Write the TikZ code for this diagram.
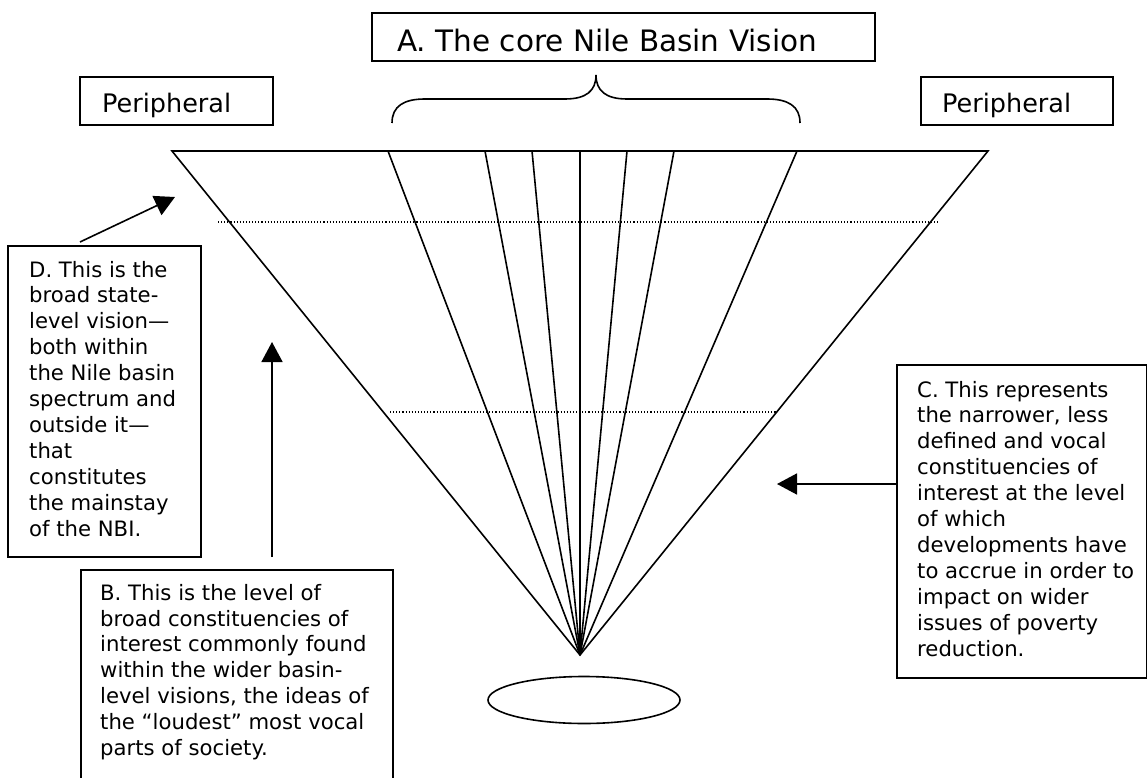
\documentclass[tikz,border=0pt]{standalone}
\usepackage{fontspec}
\setmainfont{DejaVu Sans}
\usetikzlibrary{arrows.meta,calc,shapes.geometric}
\begin{document}
\begin{tikzpicture}[x=1pt,y=-1pt,
  box/.style={draw, line width=1.6pt, inner sep=0pt, anchor=north west},
  txt/.style={inner sep=0pt, anchor=base west, align=left, font=\fontsize{21.2}{25.9}\selectfont},
  ln/.style={line width=1.6pt},
  dotln/.style={line width=1.1pt, dash pattern=on 1.1pt off 2pt},
  arr/.style={line width=1.6pt, -{Triangle[length=20pt,width=21pt]}},
]
\useasboundingbox (0,0) rectangle (1147,778);
\clip (0,0) rectangle (1147,778);
\fill[white] (0,0) rectangle (1147,778);

% boxes
\node[box, minimum width=503pt, minimum height=48pt] (A) at (371,12) {};
\node[box, minimum width=193pt, minimum height=48pt] (PL) at (79,76) {};
\node[box, minimum width=192pt, minimum height=48pt] (PR) at (920,76) {};
\node[box, minimum width=193pt, minimum height=311pt] (D) at (7,245) {};
\node[box, minimum width=312pt, minimum height=240pt] (B) at (80,569) {};
\node[box, minimum width=250pt, minimum height=313pt] (C) at (896,364) {};

% texts (base anchor = baseline of the last line)
\node[txt, font=\fontsize{29.5}{34}\selectfont] (At) at (397,52) {A. The core Nile Basin Vision};
\node[txt, font=\fontsize{25.5}{30}\selectfont] (PLt) at (102,113) {Peripheral};
\node[txt, font=\fontsize{25.5}{30}\selectfont] (PRt) at (942,113) {Peripheral};
\node[txt] (Dt) at (29,536) {D. This is the\\broad state-\\level vision—\\both within\\the Nile basin\\spectrum and\\outside it—\\that\\constitutes\\the mainstay\\of the NBI.};
\node[txt] (Bt) at (100,755.5) {B. This is the level of\\broad constituencies of\\interest commonly found\\within the wider basin-\\level visions, the ideas of\\the “loudest” most vocal\\parts of society.};
\node[txt] (Ct) at (917,656) {C. This represents\\the narrower, less\\defined and vocal\\constituencies of\\interest at the level\\of which\\developments have\\to accrue in order to\\impact on wider\\issues of poverty\\reduction.};

% triangle and fan
\coordinate (apex) at (580,655);
\coordinate (tl) at (172,151);
\coordinate (tr) at (988,151);
\foreach \x [count=\i] in {388,485,532,580,627,674,797} {\coordinate (f\i) at (\x,151);}
\draw[ln, line join=miter] (apex) -- (tl) -- (tr) -- cycle;
\foreach \i in {1,...,7} {\draw[ln] (apex) -- (f\i);}

% dotted levels
\coordinate (d1a) at (218,222); \coordinate (d1b) at (940,222);
\coordinate (d2a) at (390,412); \coordinate (d2b) at (776,412);
\draw[dotln] (d1a) -- (d1b);
\draw[dotln] (d2a) -- (d2b);

% brace
\draw[ln] (392,123) .. controls (392,106) and (404,99) .. (425,99) -- (565,99)
  .. controls (586,99) and (596,91) .. (596,75)
  .. controls (596,91) and (606,99) .. (627,99) -- (767,99)
  .. controls (788,99) and (800,106) .. (800,123);

% ellipse
\node[draw, ellipse, line width=1.6pt, minimum width=192pt, minimum height=47pt, inner sep=0pt] (E) at (584,700) {};

% arrows
\coordinate (Dtip) at (175,197);
\coordinate (Btip) at (272,342);
\coordinate (Ctip) at (777,484);
\draw[arr] ($(D.north west)+(73,-3)$) -- (Dtip);
\draw[arr] ($(B.north west)+(192,-12)$) -- (Btip);
\draw[arr] ($(C.north west)+(0,120)$) -- (Ctip);
\end{tikzpicture}
\end{document}
